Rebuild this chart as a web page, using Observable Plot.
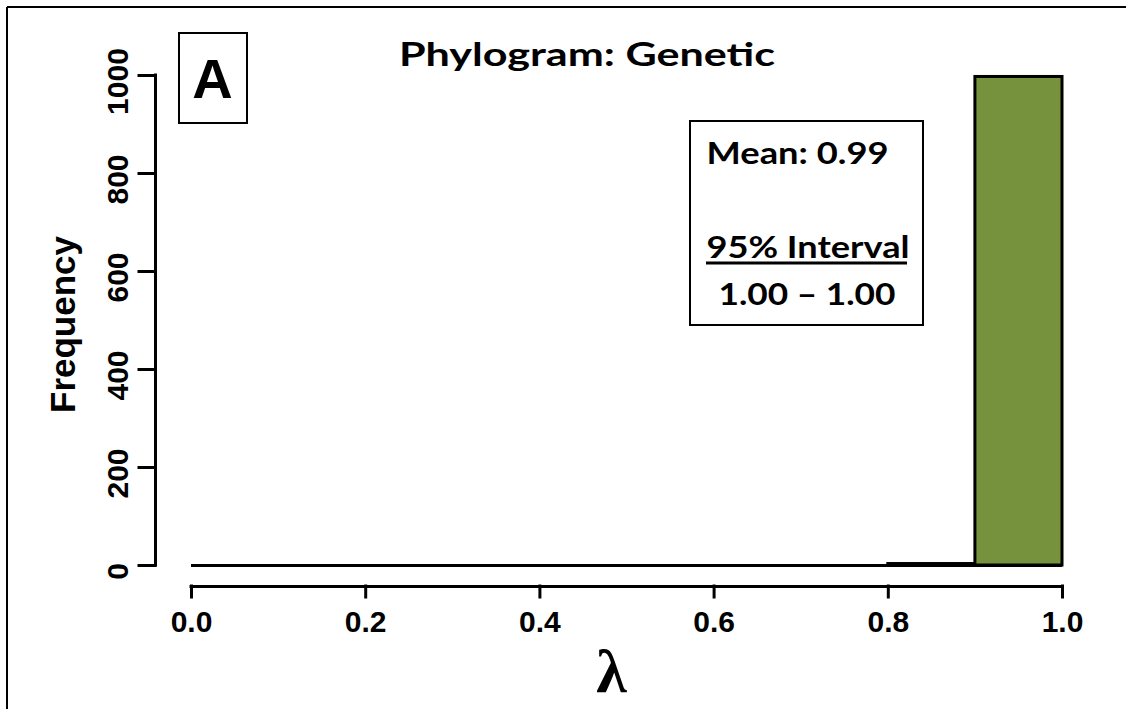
<!DOCTYPE html>
<html><head><meta charset="utf-8">
<script src="https://cdn.jsdelivr.net/npm/d3@7"></script>
<script src="https://cdn.jsdelivr.net/npm/@observablehq/plot@0.6"></script>
<style>
body{margin:0;background:#fff;}
#chart{position:relative;width:1126px;height:709px;overflow:hidden;}
</style>
</head><body><div id="chart"></div>
<script>
// ---- data ----
const binStarts = [0.0, 0.1, 0.2, 0.3, 0.4, 0.5, 0.6, 0.7, 0.8, 0.9];
const binEnds   = [0.1, 0.2, 0.3, 0.4, 0.5, 0.6, 0.7, 0.8, 0.9, 1.0];
const counts    = [0, 0, 0, 0, 0, 0, 0, 0, 3, 997];
const xTicks = [0.0, 0.2, 0.4, 0.6, 0.8, 1.0];
const yTicks = [0, 200, 400, 600, 800, 1000];
const titleText = "Phylogram: Genetic";
const panelLabel = "A";
const meanLabel = "Mean: 0.99";
const intervalHeader = "95% Interval";
const intervalRange = "1.00 – 1.00";
const xLabel = "λ";
const yLabel = "Frequency";

const bins = binStarts.map((s, i) => ({x1: s, x2: binEnds[i], count: counts[i]}));
const AX = "'Liberation Sans', Arial, sans-serif";
const CAL = "Lato, Carlito, Calibri, sans-serif";
const SERIF = "'Liberation Serif', 'Times New Roman', serif";
const LW = 3;

const chart = Plot.plot({
  width: 1126, height: 709,
  marginLeft: 191, marginRight: 64, marginTop: 75, marginBottom: 144,
  x: {domain: [binStarts[0], binEnds[binEnds.length - 1]]},
  y: {domain: [yTicks[0], yTicks[yTicks.length - 1]]},
  style: {background: "white", color: "black"},
  marks: [
    // zero-height bars drawn as a line at 0
    Plot.ruleY([0], {x1: binStarts[0], x2: binEnds[binEnds.length - 1], stroke: "black", strokeWidth: LW}),
    Plot.rectY(bins, {x1: "x1", x2: "x2", y: "count", fill: "#76923c", stroke: "black", strokeWidth: LW}),
    // x axis (offset like R)
    Plot.ruleY([yTicks[0]], {x1: xTicks[0], x2: xTicks[xTicks.length - 1], dy: 21, stroke: "black", strokeWidth: LW, strokeLinecap: "square"}),
    Plot.axisX(xTicks, {tickSize: 11, dy: 21, strokeWidth: LW, strokeLinecap: "square", fill: "none", label: null}),
    Plot.axisX(xTicks, {tickSize: 11, dy: 21, tickPadding: 13, stroke: "none", tickFormat: d3.format(".1f"),
      fontSize: 30, fontWeight: "bold", fontFamily: AX, fill: "black", label: null}),
    // y axis
    Plot.ruleX([xTicks[0]], {y1: yTicks[0], y2: yTicks[yTicks.length - 1], dx: -36, stroke: "black", strokeWidth: LW, strokeLinecap: "square"}),
    Plot.axisY(yTicks, {tickSize: 16, dx: -36, strokeWidth: LW, strokeLinecap: "square", fill: "none", label: null}),
    Plot.axisY(yTicks, {tickSize: 16, dx: -36, dy: 6, tickPadding: 12, tickRotate: -90, stroke: "none",
      tickFormat: d3.format("d"), fontSize: 30, fontWeight: "bold", fontFamily: AX, fill: "black", label: null}),
    // axis titles
    Plot.text([yLabel], {frameAnchor: "top-left", lineAnchor: "middle", dx: -128, dy: 249, rotate: -90, textAnchor: "middle",
      fontSize: 35, fontWeight: "bold", fontFamily: AX, fill: "black"}),
    Plot.text([xLabel], {frameAnchor: "top-left", lineAnchor: "middle", dx: 420, dy: 597, textAnchor: "middle",
      fontSize: 62, fontWeight: "bold", fontFamily: SERIF, fill: "black"}),
    // title & annotations
    Plot.text([titleText], {frameAnchor: "top-left", lineAnchor: "middle", dx: 395.5, dy: -20, textAnchor: "middle",
      fontSize: 32, fontWeight: "bold", fontFamily: CAL, fill: "black"}),
    Plot.text([panelLabel], {frameAnchor: "top-left", lineAnchor: "middle", dx: 21, dy: 5, textAnchor: "middle",
      fontSize: 56, fontWeight: "bold", fontFamily: AX, fill: "black"}),
    Plot.text([meanLabel], {frameAnchor: "top-left", lineAnchor: "middle", dx: 515, dy: 79, textAnchor: "start",
      fontSize: 31, fontWeight: "bold", fontFamily: CAL, fill: "black"}),
    Plot.text([intervalHeader], {frameAnchor: "top-left", lineAnchor: "middle", dx: 515, dy: 173, textAnchor: "start",
      fontSize: 31, fontWeight: "bold", fontFamily: CAL, fill: "black"}),
    Plot.text([intervalRange], {frameAnchor: "top-left", lineAnchor: "middle", dx: 615.5, dy: 220, textAnchor: "middle",
      fontSize: 31, fontWeight: "bold", fontFamily: CAL, fill: "black"})
  ]
});
document.getElementById("chart").appendChild(chart);

const svg = d3.select(chart);
// stretch the PowerPoint-style labels to the widths seen in the reference
const stretch = new Map([[titleText, 376], [meanLabel, 182], [intervalHeader, 203], [intervalRange, 177]]);
chart.querySelectorAll("text").forEach(t => {
  const w = stretch.get(t.textContent);
  if (w) { t.setAttribute("textLength", w); t.setAttribute("lengthAdjust", "spacingAndGlyphs"); }
});

// decorative boxes and outer border
const deco = svg.insert("g", ":first-child").attr("fill", "none").attr("stroke", "black");
deco.append("rect").attr("x", 179).attr("y", 33).attr("width", 68).attr("height", 90).attr("stroke-width", 2);
deco.append("rect").attr("x", 690).attr("y", 121).attr("width", 233).attr("height", 204).attr("stroke-width", 2);
deco.append("line").attr("x1", 7).attr("x2", 7).attr("y1", 7).attr("y2", 709).attr("stroke-width", 2);
deco.append("line").attr("x1", 7).attr("x2", 1126).attr("y1", 7).attr("y2", 7).attr("stroke-width", 2);

// underline for the interval header
svg.append("line").attr("x1", 706).attr("x2", 907).attr("y1", 263).attr("y2", 263)
  .attr("stroke", "black").attr("stroke-width", 3);
</script>
</body></html>
